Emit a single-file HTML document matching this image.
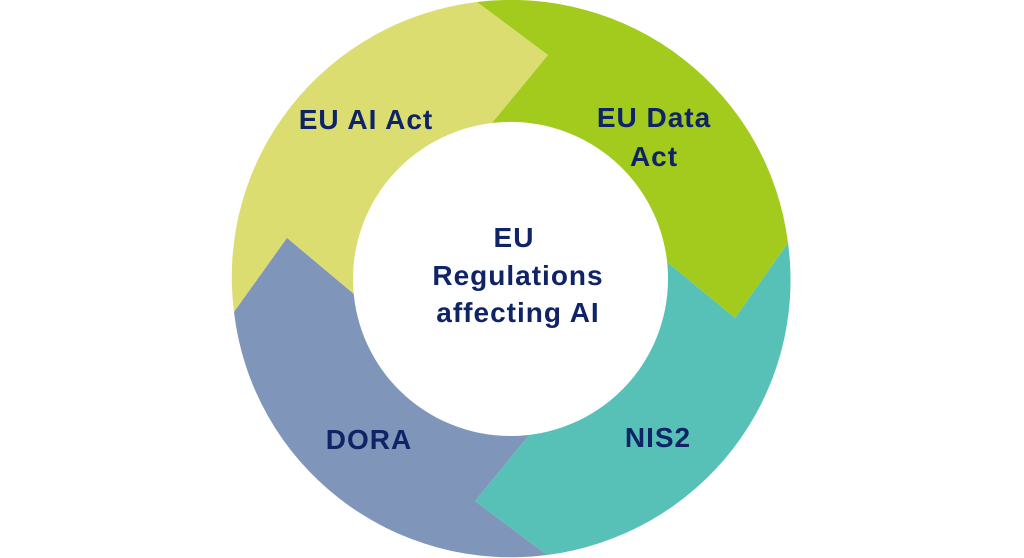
<!DOCTYPE html>
<html><head><meta charset="utf-8"><style>
html,body{margin:0;padding:0;background:#fff;}
svg{display:block;}
text{font-family:"Liberation Sans",sans-serif;font-weight:bold;font-size:28px;letter-spacing:1px;fill:#0e2466;text-anchor:middle;}
</style></head><body>
<svg width="1024" height="558" viewBox="0 0 1024 558">
<path fill="#dbdd70" d="M234,312 A279,277 0 0 1 477,2 L548,55 L492,123 A157.5,157 0 0 0 355,295 L287,238 Z"/>
<path fill="#a2cb1e" d="M477,2 A279,277 0 0 1 788,243 L735,318 L667,262 A157.5,157 0 0 0 492,123 L548,55 Z"/>
<path fill="#57c1b8" d="M788,243 A279,277 0 0 1 547,555 L475,501 L530,434 A157.5,157 0 0 0 667,262 L735,318 Z"/>
<path fill="#7f95b9" d="M547,555 A279,277 0 0 1 234,312 L287,238 L355,295 A157.5,157 0 0 0 530,434 L475,501 Z"/>
<ellipse cx="510.5" cy="279" rx="157.5" ry="157" fill="#fff"/>
<text x="366" y="129">EU AI Act</text>
<text x="654" y="127">EU Data</text>
<text x="654" y="166">Act</text>
<text x="369" y="449">DORA</text>
<text x="658" y="447">NIS2</text>
<text x="514" y="247">EU</text>
<text x="518" y="285">Regulations</text>
<text x="518" y="322">affecting AI</text>
</svg>
</body></html>
